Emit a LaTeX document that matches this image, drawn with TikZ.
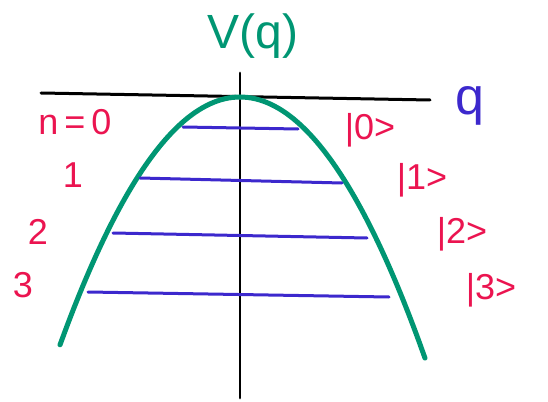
\documentclass[tikz,border=0pt]{standalone}
\usepackage{fontspec}
\setmainfont{Liberation Sans}
\definecolor{curvegreen}{RGB}{0,150,115}
\definecolor{levelblue}{RGB}{60,40,205}
\definecolor{labelred}{RGB}{235,20,80}
\begin{document}
\begin{tikzpicture}[x=1pt, y=-1pt, line cap=round,
    lbl/.style={text=labelred, font=\fontsize{36}{40}\selectfont},
    lvl/.style={levelblue, line width=3pt}]
    \useasboundingbox (0,0) rectangle (548,401);
    % 1. axes
    \draw[line width=3pt] (41,93) -- (430,100);
    \draw[line width=2.8pt] (240,73) -- (240,398);
    \node[text=curvegreen, font=\fontsize{48}{52}\selectfont] (vq) at (253,36) {V(q)};
    \node[text=levelblue, font=\fontsize{52}{56}\selectfont] (qlab) at (470,106) {q};

    % 2. inverted well
    \draw[curvegreen, line width=5pt, smooth, domain=60:240] plot (\x, {97 + 0.765*((\x-240)/10)^2});
    \draw[curvegreen, line width=5pt, smooth, domain=240:425] plot (\x, {97 + 0.763*((\x-240)/10)^2});

    % 3. levels
    \draw[lvl] (183,127) -- (298,129);
    \draw[lvl] (140,178) -- (342,183);
    \draw[lvl] (113,233) -- (367,238);
    \draw[lvl] (88,292) -- (389,297);

    % 4. labels
    \node[lbl] (n0) at (75,122) {n\,=\,0};
    \node[lbl] (n1) at (73,175) {1};
    \node[lbl] (n2) at (38,232) {2};
    \node[lbl] (n3) at (23,285) {3};
    \node[lbl] (k0) at (370,130) {|0>};
    \node[lbl] (k1) at (422,180) {|1>};
    \node[lbl] (k2) at (462,234) {|2>};
    \node[lbl] (k3) at (491,290) {|3>};
\end{tikzpicture}
\end{document}
